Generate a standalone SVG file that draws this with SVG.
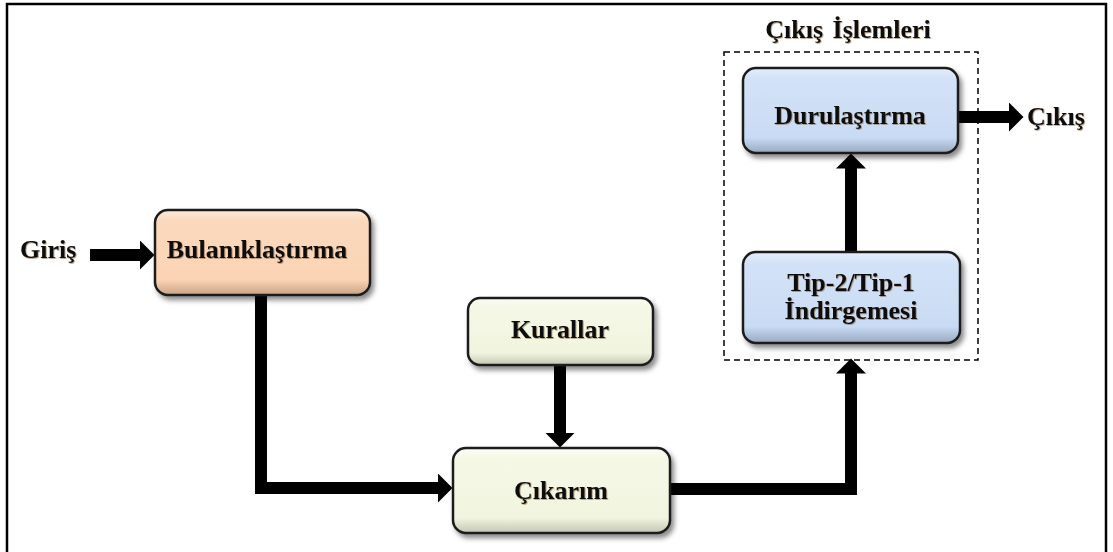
<svg xmlns="http://www.w3.org/2000/svg" width="1113" height="552" viewBox="0 0 1113 552">
  <defs>
    <style>
      .lbl { font-family: "Liberation Serif", "Times New Roman", serif; font-weight: bold; font-size: 26px; fill: #111; }
      .mid { text-anchor: middle; }
      .box { stroke: #1c1c1c; stroke-width: 2.5; }
      .wire { fill: none; stroke: #000; stroke-width: 12; stroke-linejoin: miter; }
    </style>
    <linearGradient id="gPeach" x1="0" y1="0" x2="0" y2="1">
      <stop offset="0" stop-color="#fdeadb"/>
      <stop offset="0.12" stop-color="#fbd9bd"/>
      <stop offset="0.82" stop-color="#fad4b4"/>
      <stop offset="1" stop-color="#c9a385"/>
    </linearGradient>
    <linearGradient id="gCream" x1="0" y1="0" x2="0" y2="1">
      <stop offset="0" stop-color="#fbfdf3"/>
      <stop offset="0.12" stop-color="#f5f8e6"/>
      <stop offset="0.82" stop-color="#f1f5df"/>
      <stop offset="1" stop-color="#c3c6b2"/>
    </linearGradient>
    <linearGradient id="gBlue" x1="0" y1="0" x2="0" y2="1">
      <stop offset="0" stop-color="#e6effb"/>
      <stop offset="0.12" stop-color="#d3e2f7"/>
      <stop offset="0.82" stop-color="#c9dbf4"/>
      <stop offset="1" stop-color="#97a8c0"/>
    </linearGradient>
    <filter id="boxShadow" x="-10%" y="-10%" width="125%" height="135%">
      <feDropShadow dx="3" dy="4" stdDeviation="2.5" flood-color="#000" flood-opacity="0.45"/>
    </filter>
    <filter id="textShadow" x="-5%" y="-20%" width="110%" height="140%">
      <feDropShadow dx="0.8" dy="0.8" stdDeviation="0.4" flood-color="#6b4a1e" flood-opacity="0.55"/>
    </filter>
    <marker id="head" markerUnits="userSpaceOnUse" markerWidth="16" markerHeight="30" refX="0.5" refY="15" orient="auto">
      <path d="M0,0 L15,15 L0,30 Z" fill="#000"/>
    </marker>
  </defs>

  <rect width="1113" height="552" fill="#fff"/>
  <!-- frame -->
  <rect x="7" y="4" width="1099" height="560" fill="none" stroke="#000" stroke-width="2.5"/>

  <!-- output-stage grouping -->
  <g id="output-stage">
    <rect x="724" y="52" width="254" height="308" fill="none" stroke="#000" stroke-width="1.5" stroke-dasharray="6 4"/>
    <text class="lbl mid" x="848" y="38" font-size="27" word-spacing="3" filter="url(#textShadow)">Çıkış İşlemleri</text>
  </g>

  <!-- connectors -->
  <g id="connectors">
    <path class="wire" d="M90,255 H140" marker-end="url(#head)"/>
    <path class="wire" d="M261,295 V488 H438" marker-end="url(#head)"/>
    <path class="wire" d="M560,365 V433" marker-end="url(#head)"/>
    <path class="wire" d="M670,489 H851 V373" marker-end="url(#head)"/>
    <path class="wire" d="M851,252 V168" marker-end="url(#head)"/>
    <path class="wire" d="M958,117 H1009" marker-end="url(#head)"/>
  </g>

  <!-- nodes -->
  <g id="input">
    <text class="lbl" x="20" y="258" font-size="27" filter="url(#textShadow)">Giriş</text>
  </g>

  <g id="fuzzifier">
    <rect class="box" x="155" y="210" width="215" height="85" rx="13" fill="url(#gPeach)" filter="url(#boxShadow)"/>
    <text class="lbl mid" x="257" y="258" filter="url(#textShadow)">Bulanıklaştırma</text>
  </g>

  <g id="rules">
    <rect class="box" x="468" y="298" width="185" height="67" rx="12" fill="url(#gCream)" filter="url(#boxShadow)"/>
    <text class="lbl mid" x="560" y="338" filter="url(#textShadow)">Kurallar</text>
  </g>

  <g id="inference">
    <rect class="box" x="453" y="448" width="217" height="85" rx="13" fill="url(#gCream)" filter="url(#boxShadow)"/>
    <text class="lbl mid" x="561" y="499" filter="url(#textShadow)">Çıkarım</text>
  </g>

  <g id="type-reducer">
    <rect class="box" x="743" y="252" width="217" height="91" rx="13" fill="url(#gBlue)" filter="url(#boxShadow)"/>
    <text class="lbl mid" x="851" y="291" filter="url(#textShadow)">Tip-2/Tip-1</text>
    <text class="lbl mid" x="851" y="319" filter="url(#textShadow)">İndirgemesi</text>
  </g>

  <g id="defuzzifier">
    <rect class="box" x="743" y="68" width="215" height="85" rx="13" fill="url(#gBlue)" filter="url(#boxShadow)"/>
    <text class="lbl mid" x="850" y="124" filter="url(#textShadow)">Durulaştırma</text>
  </g>

  <g id="output">
    <text class="lbl" x="1027" y="125" font-size="27" filter="url(#textShadow)">Çıkış</text>
  </g>
</svg>
